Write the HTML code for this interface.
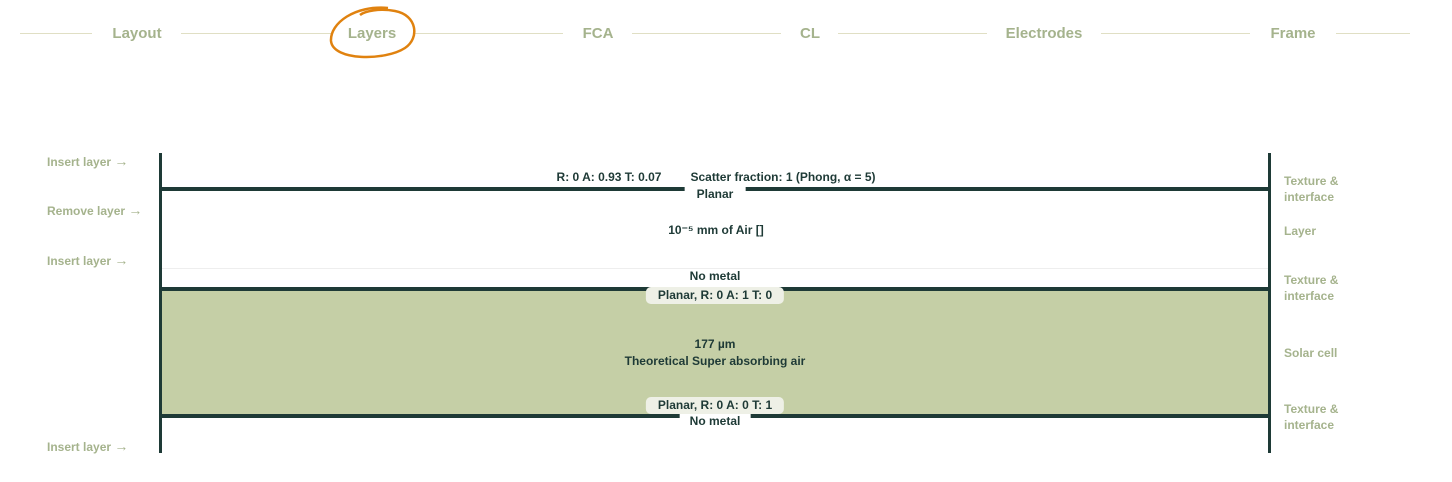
<!DOCTYPE html>
<html><head><meta charset="utf-8"><style>
body{margin:0;width:1452px;height:482px;background:#fff;position:relative;overflow:hidden;font-family:"Liberation Sans",sans-serif}
.a{position:absolute}
.hl{position:absolute;top:33px;height:1px;background:#e0dfc4}
.nav{position:absolute;top:25px;font-size:15px;font-weight:bold;color:#a5b38d;transform:translateX(-50%)}
.sl{position:absolute;font-size:12px;font-weight:bold;color:#a5b38d;line-height:16px}
.sl b{font-size:14px}
.t{position:absolute;font-size:12px;font-weight:bold;color:#1e3a36;transform:translateX(-50%);white-space:nowrap;line-height:15px}
.pill{background:#eef0e6;border-radius:5px;padding:1px 12px}
</style></head><body>
<div class="hl" style="left:20px;width:72px"></div>
<div class="hl" style="left:181px;width:150px"></div>
<div class="hl" style="left:415px;width:148px"></div>
<div class="hl" style="left:632px;width:149px"></div>
<div class="hl" style="left:838px;width:149px"></div>
<div class="hl" style="left:1101px;width:149px"></div>
<div class="hl" style="left:1336px;width:74px"></div>
<div class="nav" style="left:137px">Layout</div>
<div class="nav" style="left:372px">Layers</div>
<div class="nav" style="left:598px">FCA</div>
<div class="nav" style="left:810px">CL</div>
<div class="nav" style="left:1044px">Electrodes</div>
<div class="nav" style="left:1293px">Frame</div>
<svg class="a" style="left:325px;top:3px" width="95" height="62"><path d="M63 5 C30 2 5 20 6 38 C8 58 60 58 80 45 C95 35 92 12 70 8 C55 5 40 8 35 12" fill="none" stroke="#e0820f" stroke-width="2.5"/></svg>

<div class="sl" style="left:47px;top:153px">Insert layer <b>→</b></div>
<div class="sl" style="left:47px;top:202px">Remove layer <b>→</b></div>
<div class="sl" style="left:47px;top:252px">Insert layer <b>→</b></div>
<div class="sl" style="left:47px;top:438px">Insert layer <b>→</b></div>
<div class="sl" style="left:1284px;top:173px">Texture &amp;<br>interface</div>
<div class="sl" style="left:1284px;top:223px">Layer</div>
<div class="sl" style="left:1284px;top:272px">Texture &amp;<br>interface</div>
<div class="sl" style="left:1284px;top:345px">Solar cell</div>
<div class="sl" style="left:1284px;top:401px">Texture &amp;<br>interface</div>

<div class="a" style="left:161px;top:290px;width:1107px;height:125px;background:#c5cfa6"></div>
<div class="a" style="left:161px;top:268px;width:1107px;height:1px;background:#eeeeee"></div>
<div class="a" style="left:159px;top:153px;width:3px;height:300px;background:#1e3a36"></div>
<div class="a" style="left:1268px;top:153px;width:3px;height:300px;background:#1e3a36"></div>
<div class="a" style="left:161px;top:187px;width:1107px;height:4px;background:#1e3a36"></div>
<div class="a" style="left:161px;top:287px;width:1107px;height:4px;background:#1e3a36"></div>
<div class="a" style="left:161px;top:414px;width:1107px;height:4px;background:#1e3a36"></div>

<div class="t" style="left:609px;top:170px">R: 0 A: 0.93 T: 0.07</div>
<div class="t" style="left:783px;top:170px">Scatter fraction: 1 (Phong, α = 5)</div>
<div class="t" style="left:715px;top:187px;background:#fff;padding:0 12px">Planar</div>
<div class="t" style="left:716px;top:223px">10⁻⁵ mm of Air []</div>
<div class="t" style="left:715px;top:269px">No metal</div>
<div class="t pill" style="left:715px;top:287px">Planar, R: 0 A: 1 T: 0</div>
<div class="t" style="left:715px;top:337px">177 µm</div>
<div class="t" style="left:715px;top:354px">Theoretical Super absorbing air</div>
<div class="t pill" style="left:715px;top:397px">Planar, R: 0 A: 0 T: 1</div>
<div class="t" style="left:715px;top:414px;background:#fff;padding:0 10px">No metal</div>
</body></html>
